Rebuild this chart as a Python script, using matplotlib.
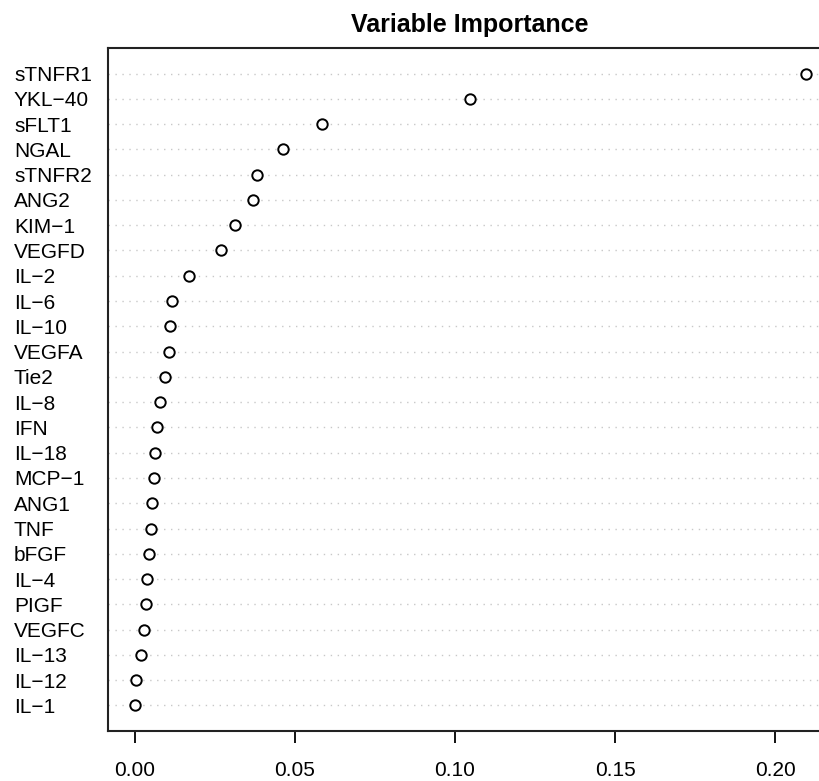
import numpy as np
import matplotlib.pyplot as plt

plt.rcParams['font.family'] = ['Liberation Sans', 'DejaVu Sans']

# variable names, top to bottom
variables = ['sTNFR1', 'YKL\u221240', 'sFLT1', 'NGAL', 'sTNFR2', 'ANG2', 'KIM\u22121',
             'VEGFD', 'IL\u22122', 'IL\u22126', 'IL\u221210', 'VEGFA', 'Tie2', 'IL\u22128',
             'IFN', 'IL\u221218', 'MCP\u22121', 'ANG1', 'TNF', 'bFGF', 'IL\u22124', 'PIGF',
             'VEGFC', 'IL\u221213', 'IL\u221212', 'IL\u22121']
# importance values
importance = [0.2096, 0.1047, 0.0585, 0.0464, 0.0380, 0.0368, 0.0314,
              0.0268, 0.0169, 0.0117, 0.0110, 0.0105, 0.0094, 0.0077,
              0.0068, 0.0062, 0.0059, 0.0054, 0.0050, 0.0044, 0.0039, 0.0033,
              0.0028, 0.0018, 0.0002, 0.0000]
xticks = [0.00, 0.05, 0.10, 0.15, 0.20]
xticklabels = ['0.00', '0.05', '0.10', '0.15', '0.20']

W, H = 820, 781
fig = plt.figure(figsize=(W / 100, H / 100), dpi=100)
# box runs past the right edge, like the cropped original
ax = fig.add_axes([108 / W, (H - 730.7) / H, 724 / W, 682.4 / H])

n = len(variables)
ypos = np.arange(n, 0, -1)
xmin, xmax = -0.00844, 0.2178

# dotted guide lines
for y in ypos:
    ax.plot([xmin, xmax], [y, y], color='#c8c8c8', lw=1.0,
            linestyle=(0, (1, 4)), zorder=1)

ax.plot(importance, ypos, linestyle='none', marker='o', markersize=7.5,
        markerfacecolor='white', markeredgecolor='black', markeredgewidth=1.4, zorder=3)

ax.set_xlim(xmin, xmax)
ax.set_ylim(0, n + 1)

ax.set_xticks(xticks)
ax.set_xticklabels(xticklabels, fontsize=15)
ax.tick_params(axis='x', direction='out', length=8.6, width=1.3, pad=13, color='black')

ax.set_yticks(ypos)
ax.set_yticklabels(variables, fontsize=15)
ax.tick_params(axis='y', length=0, pad=(108 - 14) * 0.72)
for lab in ax.get_yticklabels():
    lab.set_horizontalalignment('left')

for s in ax.spines.values():
    s.set_linewidth(1.5)
    s.set_color('#222222')

ax.set_title('Variable Importance', fontsize=18, fontweight='bold', pad=11.5)

fig.savefig('out.png', dpi=100)
